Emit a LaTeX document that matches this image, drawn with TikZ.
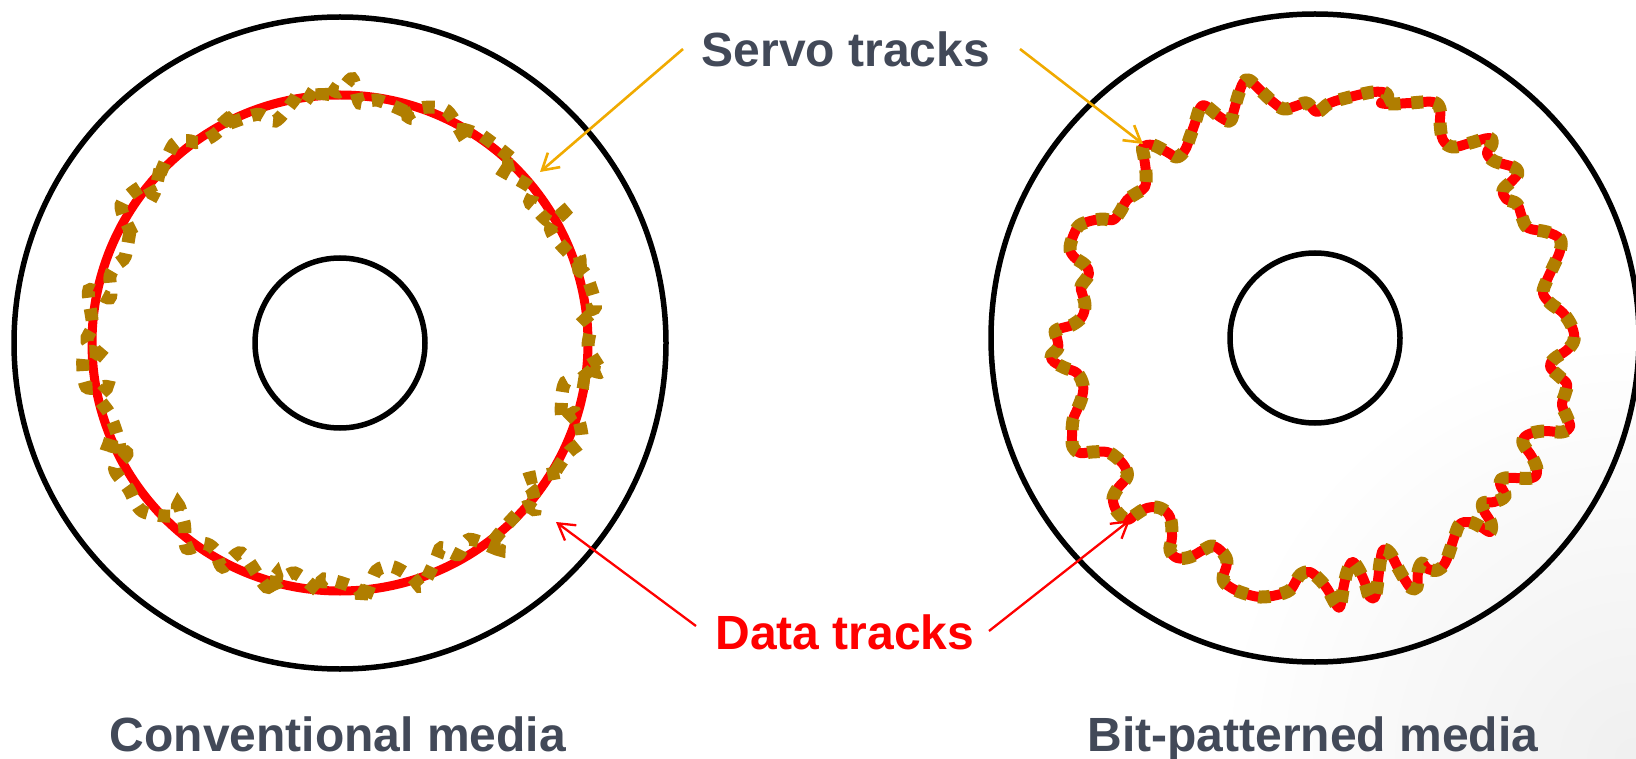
\documentclass[tikz,border=0pt]{standalone}
\usepackage{fontspec}
\setmainfont{Liberation Sans}
\usetikzlibrary{arrows.meta}
\definecolor{servo}{RGB}{176,126,0}
\definecolor{txt}{RGB}{66,73,88}
\definecolor{orng}{RGB}{240,170,0}
\definecolor{dred}{RGB}{255,0,0}
\begin{document}
\begin{tikzpicture}[x=1pt,y=-1pt,
  lbl/.style={font=\fontsize{48}{56}\selectfont\bfseries, text=txt, inner sep=0pt},
  disc/.style={draw=black, line width=5.5pt},
  datatrack/.style={draw=dred, line width=9pt},
  servodash/.style={draw=servo, line width=13pt, dash pattern=on 12pt off 11pt},
  servoarrow/.style={draw=orng, line width=2.6pt, -{Straight Barb[length=16pt,width=19pt]}},
  dataarrow/.style={draw=dred, line width=2.3pt, -{Straight Barb[length=16pt,width=19pt]}}
]
\useasboundingbox (0,0) rectangle (1636,759);
% faint slide shading at the lower right corner
\begin{scope}
  \clip (0,0) rectangle (1636,759);
  \shade[inner color=black!6, outer color=white] (1636,759) circle[radius=420pt];
\end{scope}

\coordinate (L) at (340,343);
\coordinate (R) at (1315,338);

% ---------- conventional media ----------
\draw[disc] (L) circle[radius=326pt];
\draw[disc] (L) circle[radius=85pt];
\draw[datatrack] (L) circle[radius=248pt];
\pgfmathsetseed{4711}
\draw[servodash] plot[smooth cycle, variable=\t, samples=110, domain=0:356.7]
  ({340+248*cos(\t)+17*rand}, {343+248*sin(\t)+17*rand});

% ---------- bit-patterned media ----------
\draw[disc] (R) circle[radius=324pt];
\draw[disc] (R) circle[radius=85pt];
\draw[datatrack, line width=10pt, line join=round,
      postaction={servodash}]
  plot[smooth cycle, tension=0.6] coordinates {
(1143,147) (1153,145) (1167,152) (1177,157) (1185,150) (1190,137) (1195,123) (1200,108) (1206,106) (1220,117) (1230,121) (1234,110) (1238,96) (1243,83) (1249,80) (1260,90) (1273,102) (1284,109) (1296,106) (1307,103) (1317,112) (1330,103) (1350,97) (1373,92) (1386,93) (1387,99) (1381,103) (1392,104) (1410,103) (1433,102) (1440,109) (1440,123) (1443,140) (1453,147) (1470,143) (1489,138) (1492,144) (1487,153) (1494,161) (1513,167) (1518,173) (1512,181) (1503,190) (1506,199) (1517,204) (1522,217) (1528,228) (1547,232) (1560,239) (1560,251) (1553,267) (1547,280) (1543,293) (1550,303) (1563,313) (1572,327) (1574,340) (1567,350) (1554,359) (1550,367) (1560,377) (1567,384) (1565,394) (1562,405) (1567,417) (1570,427) (1562,432) (1543,431) (1527,435) (1523,443) (1532,457) (1537,470) (1532,478) (1505,478) (1500,484) (1505,496) (1494,502) (1483,503) (1484,511) (1491,523) (1490,532) (1481,527) (1470,522) (1460,524) (1455,535) (1450,550) (1445,563) (1438,570) (1428,569) (1422,563) (1418,572) (1417,587) (1411,588) (1405,580) (1398,568) (1390,553) (1383,550) (1380,563) (1378,580) (1375,597) (1369,596) (1365,583) (1358,568) (1352,562) (1347,572) (1343,590) (1340,607) (1335,603) (1328,590) (1320,580) (1310,572) (1301,574) (1296,581) (1290,590) (1277,595) (1260,597) (1243,593) (1230,587) (1223,579) (1227,563) (1223,553) (1213,546) (1203,550) (1190,557) (1177,558) (1170,550) (1172,537) (1170,517) (1160,508) (1147,508) (1135,515) (1128,520) (1120,515) (1115,508) (1113,498) (1118,488) (1127,477) (1125,467) (1117,458) (1107,452) (1092,452) (1080,453) (1073,447) (1072,435) (1073,420) (1077,410) (1082,397) (1083,385) (1077,373) (1065,368) (1054,362) (1051,356) (1058,348) (1057,338) (1055,331) (1062,328) (1072,325) (1082,317) (1085,305) (1082,293) (1081,286) (1089,274) (1085,265) (1074,257) (1070,247) (1077,228) (1087,222) (1102,219) (1113,220) (1120,212) (1127,200) (1137,193) (1145,187) (1146,173) (1144,157)
  };

% ---------- labels ----------
\node[lbl, anchor=base] (servo) at (846,66.5) {Servo tracks};
\node[lbl, anchor=base, text=dred] (data) at (845,649) {Data tracks};
\node[lbl, anchor=base] (conv) at (338,751) {Conventional media};
\node[lbl, anchor=base] (bpm) at (1313,751) {Bit-patterned media};

% ---------- arrows ----------
\coordinate (s1) at (683,49);   \coordinate (s1t) at (540,172);
\coordinate (s2) at (1020,49);  \coordinate (s2t) at (1143,144);
\coordinate (d1) at (696,626);  \coordinate (d1t) at (556,522);
\coordinate (d2) at (989,631);  \coordinate (d2t) at (1130,520);
\draw[servoarrow] (s1) -- (s1t);
\draw[servoarrow] (s2) -- (s2t);
\draw[dataarrow] (d1) -- (d1t);
\draw[dataarrow] (d2) -- (d2t);
\end{tikzpicture}
\end{document}
